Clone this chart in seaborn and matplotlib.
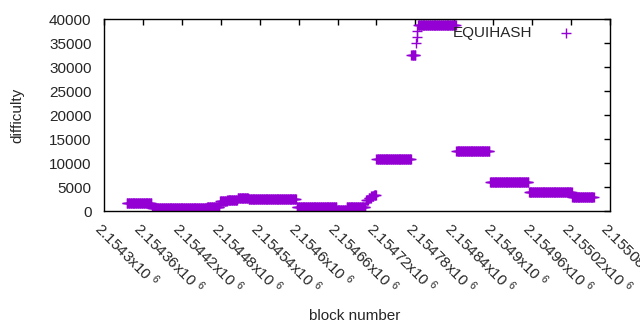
import numpy as np
import pandas as pd
from matplotlib import pyplot as plt
from matplotlib import transforms
import seaborn as sns

# runs of blocks with the same difficulty (start block, end block, difficulty)
run_start = [2154335, 2154374, 2154459, 2154479, 2154490, 2154506, 2154523,
             2154597, 2154659, 2154674, 2154704, 2154708, 2154712, 2154716,
             2154720, 2154774, 2154781, 2154782, 2154783, 2154784, 2154843,
             2154895, 2154955, 2155022]
run_end = [2154373, 2154458, 2154478, 2154489, 2154505, 2154522, 2154596,
           2154658, 2154673, 2154703, 2154707, 2154711, 2154715, 2154719,
           2154773, 2154780, 2154781, 2154782, 2154783, 2154842, 2154894,
           2154954, 2155021, 2155055]
run_diff = [1600, 620, 830, 2000, 2300, 2650, 2420,
            770, 250, 800, 2350, 2700, 3050, 3400,
            10800, 32400, 35100, 36300, 37400, 38700, 12400,
            6100, 4000, 3000]

x_ticks = [2154300, 2154360, 2154420, 2154480, 2154540, 2154600, 2154660,
           2154720, 2154780, 2154840, 2154900, 2154960, 2155020, 2155080]
x_tick_labels = ['2.1543', '2.15436', '2.15442', '2.15448', '2.15454', '2.1546',
                 '2.15466', '2.15472', '2.15478', '2.15484', '2.1549', '2.15496',
                 '2.15502', '2.15508']
y_ticks = [0, 5000, 10000, 15000, 20000, 25000, 30000, 35000, 40000]

blocks, diffs = [], []
for s, e, d in zip(run_start, run_end, run_diff):
    for b in range(s, e + 1):
        blocks.append(b)
        diffs.append(d)
df = pd.DataFrame({'block': blocks, 'difficulty': diffs})

sns.set_style('white')
plt.rcParams['font.family'] = ['Liberation Sans', 'DejaVu Sans']
plt.rcParams['mathtext.fontset'] = 'custom'
plt.rcParams['mathtext.rm'] = 'Liberation Sans'
plt.rcParams['mathtext.it'] = 'Liberation Sans'

fs = 11
fig = plt.figure(figsize=(6.4, 3.3), dpi=100)
ax = fig.add_axes([0.1625, 0.3606, 0.7906, 0.5818])

sns.scatterplot(data=df, x='block', y='difficulty', marker='+', s=45,
                linewidth=1, color='#9400D3', label='EQUIHASH', ax=ax)

ax.set_xlim(2154300, 2155080)
ax.set_ylim(0, 40000)
ax.set_yticks(y_ticks)
ax.set_yticklabels([str(v) for v in y_ticks], fontsize=fs)
ax.set_xticks(x_ticks)
ax.set_xticklabels([lab + 'x10 $^{6}$' for lab in x_tick_labels], fontsize=fs,
                   rotation=-45, ha='left', va='top', rotation_mode='anchor')
shift = transforms.ScaledTranslation(5 / 100, 0, fig.dpi_scale_trans)
for t in ax.get_xticklabels():
    t.set_transform(t.get_transform() + shift)
ax.tick_params(direction='in', length=4, width=1, top=True, right=True,
               color='black', pad=6)
ax.tick_params(axis='y', pad=9)
for sp in ax.spines.values():
    sp.set_visible(True)
    sp.set_color('black')
    sp.set_linewidth(1)

ax.set_xlabel('block number', fontsize=fs)
ax.set_ylabel('difficulty', fontsize=fs)
ax.xaxis.set_label_coords(0.496, -0.51)
ax.yaxis.set_label_coords(-0.158, 0.5)

ax.legend(loc='upper right', bbox_to_anchor=(0.955, 0.995), frameon=False,
          markerfirst=False, fontsize=fs, handletextpad=1.2, borderaxespad=0.0)

fig.savefig('out.png', dpi=100)
